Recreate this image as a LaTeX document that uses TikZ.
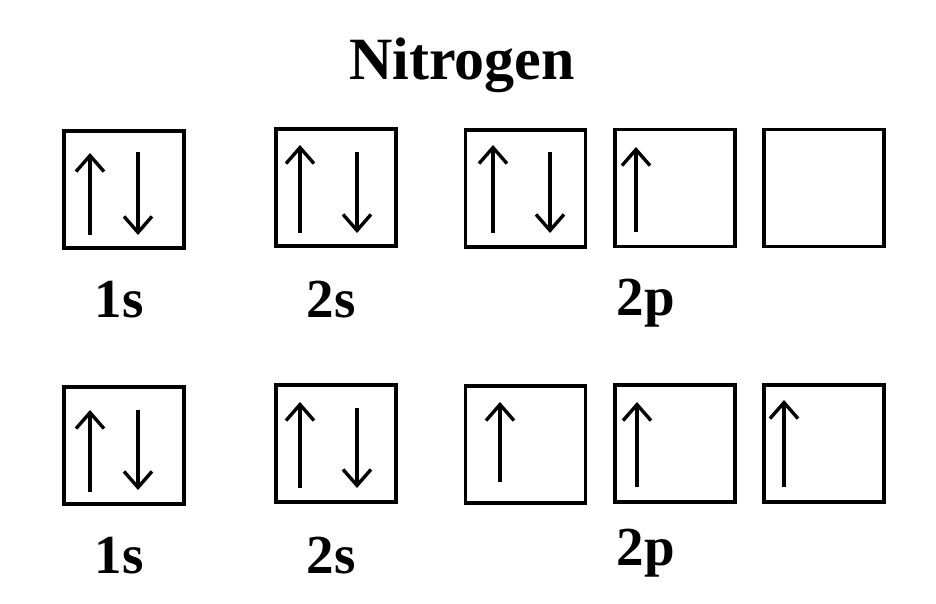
\documentclass[tikz,border=0pt]{standalone}
\usepackage{fontspec}
\setmainfont{Liberation Serif}
\usetikzlibrary{arrows.meta}
\begin{document}
\begin{tikzpicture}[x=1pt,y=-1pt,
  orb/.style={draw,line width=3.6pt,minimum width=120pt,minimum height=117pt,inner sep=0pt},
  spin/.style={line width=3.4pt,-{Straight Barb[length=16pt,width=28pt,line width=3.4pt]}},
  lbl/.style={font=\bfseries\fontsize{55}{60}\selectfont,anchor=base,inner sep=0pt},
  ttl/.style={font=\bfseries\fontsize{60}{70}\selectfont,anchor=base,inner sep=0pt}]
\useasboundingbox (0,0) rectangle (936,604);
\node[ttl] (title) at (462,80) {Nitrogen};
% top row
\node[orb] (t1s) at (124,189.5) {};
\node[orb] (t2s) at (336,187.5) {};
\node[orb] (tpa) at (525.5,188.5) {};
\node[orb] (tpb) at (675,188) {};
\node[orb] (tpc) at (824,188) {};
\draw[spin] ([shift={(-34,45.5)}]t1s.center) -- ([shift={(-34,-36.5)}]t1s.center);
\draw[spin] ([shift={(14,-37.5)}]t1s.center) -- ([shift={(14,45.5)}]t1s.center);
\draw[spin] ([shift={(-36,45.5)}]t2s.center) -- ([shift={(-36,-42.5)}]t2s.center);
\draw[spin] ([shift={(21,-35.5)}]t2s.center) -- ([shift={(21,45.5)}]t2s.center);
\draw[spin] ([shift={(-32.5,44.5)}]tpa.center) -- ([shift={(-32.5,-43.5)}]tpa.center);
\draw[spin] ([shift={(24.5,-36.5)}]tpa.center) -- ([shift={(24.5,44.5)}]tpa.center);
\draw[spin] ([shift={(-39,44)}]tpb.center) -- ([shift={(-39,-41)}]tpb.center);
\node[lbl] (l1s) at (119,317) {1s};
\node[lbl] (l2s) at (331,317) {2s};
\node[lbl] (l2p) at (646,315) {2p};
% bottom row
\node[orb] (b1s) at (124,445.5) {};
\node[orb] (b2s) at (336,443.5) {};
\node[orb] (bpa) at (525.5,444.5) {};
\node[orb] (bpb) at (675,443.5) {};
\node[orb] (bpc) at (824,443.5) {};
\draw[spin] ([shift={(-34,46.5)}]b1s.center) -- ([shift={(-34,-35.5)}]b1s.center);
\draw[spin] ([shift={(14,-35.5)}]b1s.center) -- ([shift={(14,44.5)}]b1s.center);
\draw[spin] ([shift={(-36,44.5)}]b2s.center) -- ([shift={(-36,-41.5)}]b2s.center);
\draw[spin] ([shift={(21,-35.5)}]b2s.center) -- ([shift={(21,44.5)}]b2s.center);
\draw[spin] ([shift={(-25.5,37.5)}]bpa.center) -- ([shift={(-25.5,-42.5)}]bpa.center);
\draw[spin] ([shift={(-38,43.5)}]bpb.center) -- ([shift={(-38,-41.5)}]bpb.center);
\draw[spin] ([shift={(-40,43.5)}]bpc.center) -- ([shift={(-40,-43.5)}]bpc.center);
\node[lbl] (m1s) at (119,573) {1s};
\node[lbl] (m2s) at (331,573) {2s};
\node[lbl] (m2p) at (646,565) {2p};
\end{tikzpicture}
\end{document}
